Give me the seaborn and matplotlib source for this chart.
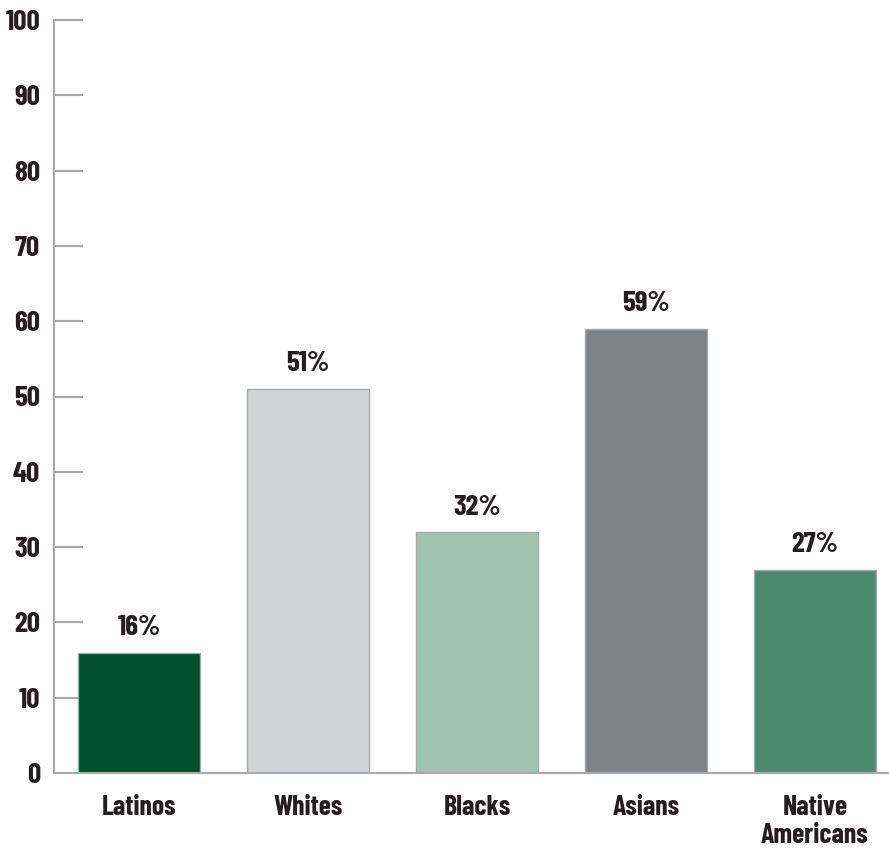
import matplotlib
matplotlib.use("Agg")
import matplotlib.pyplot as plt
import seaborn as sns
import pandas as pd

categories = ["Latinos", "Whites", "Blacks", "Asians", "Native\nAmericans"]
values = [16, 51, 32, 59, 27]
labels = ["16%", "51%", "32%", "59%", "27%"]
colors = ["#00502D", "#D1D3D4", "#A2C2B4", "#808285", "#4A8A72"]
yticks = [0, 10, 20, 30, 40, 50, 60, 70, 80, 90, 100]

sns.set_style("white")
plt.rcParams['font.family'] = ["Barlow Condensed", "DejaVu Sans"]

df = pd.DataFrame({"cat": categories, "val": values})
fig = plt.figure(figsize=(8.89, 8.48), dpi=100)
ax = fig.add_axes([54/889, 75/848, 835/889, 753/848])
sns.barplot(data=df, x="cat", y="val", hue="cat", palette=colors, legend=False,
            width=0.72, edgecolor="#A7A9AC", linewidth=1, ax=ax, saturation=1)
ax.set_xlim(-0.503, 4.438)
ax.set_ylim(0, 100)
ax.set_yticks(yticks)
ax.set_yticklabels([str(t) for t in yticks], fontsize=21, fontweight="bold", color="#231F20")
ax.tick_params(axis="y", left=True, direction="in", length=21, width=1.5, color="#A7A9AC", pad=10)
ax.tick_params(axis="x", bottom=False, length=0, pad=16)
for t in ax.get_xticklabels():
    t.set_fontsize(20)
    t.set_fontweight("bold")
    t.set_color("#231F20")
    t.set_verticalalignment("top")
    t.set_linespacing(1.15)
ax.set_xlabel("")
ax.set_ylabel("")
for s in ["top", "right"]:
    ax.spines[s].set_visible(False)
for s in ["left", "bottom"]:
    ax.spines[s].set_color("#A7A9AC")
    ax.spines[s].set_linewidth(1.5)
for i, (v, l) in enumerate(zip(values, labels)):
    ax.annotate(l, (i, v), xytext=(0, 9), textcoords="offset points", ha="center",
                va="bottom", fontsize=21, fontweight="bold", color="#231F20")
fig.savefig("out.png", dpi=100)
